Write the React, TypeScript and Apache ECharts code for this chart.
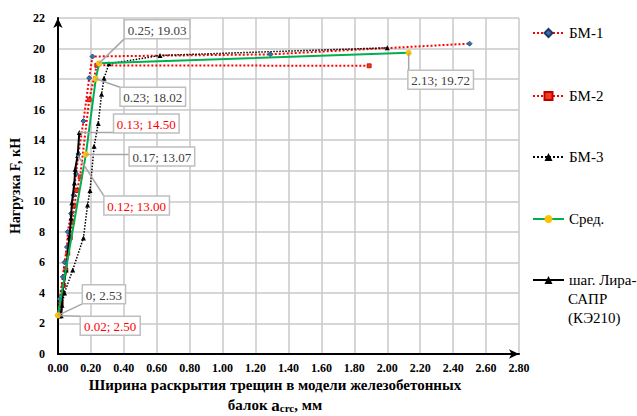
import React, { useEffect, useRef } from "react";
import * as echarts from "echarts";

// Crack width a_crc (mm) vs load F (kN)
const bm1X = [0.0, 0.01, 0.03, 0.04, 0.055, 0.06, 0.08, 0.095, 0.11, 0.125, 0.155, 0.19, 0.21, 1.29, 2.5];
const bm1Y = [2.5, 3.6, 5.05, 6.0, 7.0, 8.0, 9.2, 10.4, 11.8, 13.1, 15.25, 18.07, 19.48, 19.62, 20.32];

const bm2X = [0.01, 0.02, 0.035, 0.048, 0.06, 0.075, 0.089, 0.1, 0.115, 0.135, 0.19, 0.236, 1.89];
const bm2Y = [2.5, 3.3, 4.5, 5.5, 6.6, 7.6, 8.64, 9.7, 10.7, 11.6, 16.65, 18.9, 18.87];

const bm3X = [0.01, 0.04, 0.09, 0.155, 0.18, 0.195, 0.22, 0.245, 0.265, 0.28, 0.31, 0.62, 2.0];
const bm3Y = [2.5, 4.0, 5.5, 7.6, 9.75, 10.7, 13.6, 15.1, 17.0, 18.05, 19.0, 19.55, 20.05];

const avgX = [0, 0.17, 0.23, 0.25, 2.13];
const avgY = [2.53, 13.07, 18.02, 19.03, 19.72];

const liraX = [0.02, 0.025, 0.03, 0.05, 0.07, 0.08, 0.085, 0.1, 0.105, 0.12, 0.13];
const liraY = [2.5, 3.2, 4.2, 5.5, 7.7, 8.9, 9.9, 11.2, 12.1, 13.0, 14.5];

const seriesNames = ["БМ-1", "БМ-2", "БМ-3", "Сред.", "шаг. Лира-САПР (КЭ210)"];
// the long legend entry is set on three lines
const liraLegendLines = ["шаг. Лира-", "САПР", "(КЭ210)"];

// points that carry a value callout
const avgLabelled = [0, 1, 2, 3, 4];
const liraLabelled = [0, 9, 10];

// callout box offsets (px) from their points
const avgCalloutOffset: [number, number][] = [[46, -21], [76, 2], [57, 18], [58, -34], [32, 27]];
const liraCalloutOffset: [number, number][] = [[49, 10], [59, 50], [67, -9]];

const FONT = "'Liberation Serif', 'Times New Roman', serif";

const fmt = (v: number) => (v === 0 ? "0" : v.toFixed(2));

const pairs = (xs: number[], ys: number[]) => xs.map((x, i) => [x, ys[i]]);

// callout: a leader from the point to the nearest edge of a framed value box
function calloutSeries(
  xs: number[],
  ys: number[],
  idx: number[],
  offsets: [number, number][],
  color: string
) {
  return {
    type: "custom",
    coordinateSystem: "cartesian2d",
    silent: true,
    z: 10,
    data: idx.map((i) => [xs[i], ys[i]]),
    encode: { x: 0, y: 1 },
    renderItem: (params: any, api: any) => {
      const x = api.value(0);
      const y = api.value(1);
      const [px, py] = api.coord([x, y]);
      const [dx, dy] = offsets[params.dataIndex];
      const lx = px + dx;
      const ly = py + dy;
      const text = `${fmt(x)}; ${y.toFixed(2)}`;
      const w = text.length * 5.6 + 4;
      const h = 19;
      const ex = Math.min(Math.max(px, lx - w / 2), lx + w / 2);
      const ey = Math.min(Math.max(py, ly - h / 2), ly + h / 2);
      return {
        type: "group",
        children: [
          {
            type: "line",
            shape: { x1: px, y1: py, x2: ex, y2: ey },
            style: { stroke: "#a6a6a6", lineWidth: 1.5 },
          },
          {
            type: "rect",
            shape: { x: lx - w / 2, y: ly - h / 2, width: w, height: h },
            style: { fill: "#ffffff", stroke: "#bfbfbf", lineWidth: 1.5 },
          },
          {
            type: "text",
            x: lx,
            y: ly + 1,
            style: {
              text,
              align: "center",
              verticalAlign: "middle",
              fontFamily: FONT,
              fontSize: 13,
              fill: color,
            },
          },
        ],
      };
    },
  };
}

export default function App() {
  const ref = useRef<HTMLDivElement>(null);

  useEffect(() => {
    if (!ref.current) return;
    const chart = echarts.init(ref.current, null, { renderer: "svg" });

    const legendText = {
      fontFamily: FONT,
      fontSize: 15,
      lineHeight: 18,
      color: "#000",
    };
    const legendBase = {
      left: 532,
      padding: 0,
      itemWidth: 31,
      itemHeight: 10,
      selectedMode: false,
      textStyle: legendText,
    };

    const legendTail = liraLegendLines.slice(1).map((line, i) => ({
      type: "text",
      style: {
        x: 568,
        y: 299 + i * 18.5,
        text: line,
        align: "left",
        verticalAlign: "middle",
        fontFamily: FONT,
        fontSize: 15,
        fill: "#000",
      },
    }));

    const option: any = {
      animation: false,
      backgroundColor: "#ffffff",
      grid: { left: 57, right: 118, top: 18, bottom: 62, containLabel: false },
      xAxis: {
        type: "value",
        min: 0,
        max: 2.8,
        interval: 0.2,
        axisLine: {
          show: true,
          symbol: ["none", "arrow"],
          symbolSize: [7, 10],
          lineStyle: { color: "#000", width: 2 },
        },
        axisTick: { show: false },
        axisLabel: {
          formatter: (v: number) => v.toFixed(2),
          fontFamily: FONT,
          fontWeight: "bold",
          fontSize: 12,
          color: "#000",
          margin: 8,
        },
        splitLine: { show: true, lineStyle: { color: "#c8c8c8", width: 1.5 } },
      },
      yAxis: {
        type: "value",
        min: 0,
        max: 22,
        interval: 2,
        name: "Нагрузка F, кН",
        nameLocation: "middle",
        nameGap: 28,
        nameRotate: 90,
        nameTextStyle: {
          fontFamily: FONT,
          fontWeight: "bold",
          fontSize: 14,
          color: "#000",
        },
        axisLine: {
          show: true,
          symbol: ["none", "arrow"],
          symbolSize: [7, 10],
          lineStyle: { color: "#000", width: 2 },
        },
        axisTick: { show: false },
        axisLabel: {
          fontFamily: FONT,
          fontWeight: "bold",
          fontSize: 12,
          color: "#000",
          margin: 13,
        },
        splitLine: { show: true, lineStyle: { color: "#c8c8c8", width: 1.5 } },
      },
      legend: [
        { ...legendBase, top: 24, data: [seriesNames[0]] },
        { ...legendBase, top: 87, data: [seriesNames[1]] },
        { ...legendBase, top: 148, data: [seriesNames[2]] },
        { ...legendBase, top: 210, data: [seriesNames[3]] },
        {
          ...legendBase,
          top: 271,
          data: [seriesNames[4]],
          formatter: () => liraLegendLines[0],
        },
      ],
      graphic: [
        ...legendTail,
        {
          type: "text",
          style: {
            x: 275,
            y: 385,
            text: "Ширина раскрытия трещин в модели железобетонных",
            align: "center",
            verticalAlign: "middle",
            fontFamily: FONT,
            fontWeight: "bold",
            fontSize: 15,
            fill: "#000",
          },
        },
        {
          type: "text",
          style: {
            x: 275,
            y: 405,
            text: "{n|балок }{a|a}{s|crc}{n|, мм}",
            align: "center",
            verticalAlign: "middle",
            rich: {
              n: { fontFamily: FONT, fontWeight: "bold", fontSize: 15, fill: "#000" },
              a: { fontFamily: FONT, fontWeight: "bold", fontSize: 17, fill: "#000" },
              s: {
                fontFamily: FONT,
                fontWeight: "bold",
                fontSize: 11,
                fill: "#000",
                padding: [5, 0, 0, 0],
              },
            },
          },
        },
      ],
      series: [
        {
          name: seriesNames[0],
          type: "line",
          data: pairs(bm1X, bm1Y),
          symbol: "diamond",
          symbolSize: 5,
          itemStyle: { color: "#2e75b6", borderColor: "#1f3864", borderWidth: 0.8 },
          lineStyle: { color: "#ff0000", width: 2, type: "dotted" },
          z: 2,
        },
        {
          name: seriesNames[1],
          type: "line",
          data: pairs(bm2X, bm2Y),
          symbol: "rect",
          symbolSize: 4,
          itemStyle: { color: "#e8401c", borderColor: "#c00000", borderWidth: 0.8 },
          lineStyle: { color: "#ff0000", width: 2, type: "dotted" },
          z: 2,
        },
        {
          name: seriesNames[2],
          type: "line",
          data: pairs(bm3X, bm3Y),
          symbol: "triangle",
          symbolSize: 5,
          itemStyle: { color: "#000000" },
          lineStyle: { color: "#000000", width: 1.5, type: "dotted" },
          z: 2,
        },
        {
          name: seriesNames[3],
          type: "line",
          data: pairs(avgX, avgY),
          symbol: "circle",
          symbolSize: 6,
          itemStyle: { color: "#ffc000" },
          lineStyle: { color: "#00b050", width: 2 },
          z: 4,
        },
        {
          name: seriesNames[4],
          type: "line",
          data: pairs(liraX, liraY),
          symbol: "triangle",
          symbolSize: 5,
          itemStyle: { color: "#000000" },
          lineStyle: { color: "#000000", width: 2 },
          z: 3,
        },
        calloutSeries(avgX, avgY, avgLabelled, avgCalloutOffset, "#404040"),
        calloutSeries(liraX, liraY, liraLabelled, liraCalloutOffset, "#ff0000"),
      ],
    };

    chart.setOption(option);
    return () => chart.dispose();
  }, []);

  return (
    <div
      ref={ref}
      style={{ position: "fixed", left: 0, top: 0, width: 637, height: 416 }}
    />
  );
}
